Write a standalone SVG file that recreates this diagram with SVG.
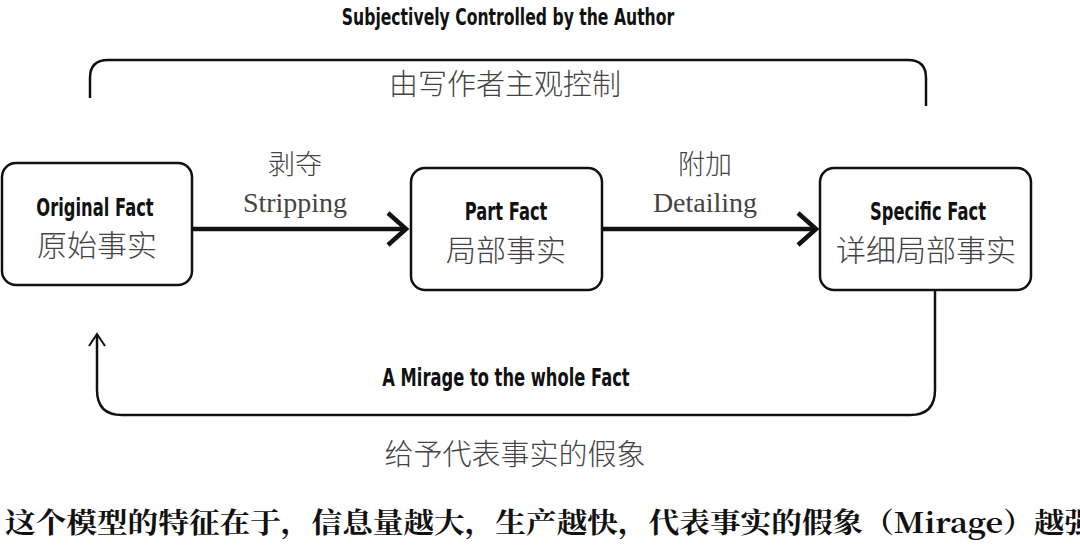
<svg xmlns="http://www.w3.org/2000/svg" width="1080" height="555" viewBox="0 0 1080 555">
<style>
.box{fill:#fff;stroke:#111;stroke-width:2.5}
.en{font-family:"DejaVu Sans",sans-serif;font-weight:bold;fill:#111;text-anchor:middle}
.cn{font-family:"Noto Sans CJK SC",sans-serif;font-weight:300;fill:#444;text-anchor:middle}
.sf{font-family:"Liberation Serif",serif;fill:#444;text-anchor:middle}
.ln{fill:none;stroke:#111;stroke-width:2.5}
</style>
<rect width="1080" height="555" fill="#fff"/>
<g id="connectors">
<path class="ln" d="M90,98 V78 Q90,60 108,60 H908 Q926,60 926,78 V106"/>
<path d="M192,229 H404" stroke="#111" stroke-width="4.5" fill="none"/>
<path d="M388,213 L406,229 L388,245" stroke="#111" stroke-width="4.5" fill="none"/>
<path d="M602,229 H814" stroke="#111" stroke-width="4.5" fill="none"/>
<path d="M798,213 L816,229 L798,245" stroke="#111" stroke-width="4.5" fill="none"/>
<path class="ln" d="M935,290 V390 Q935,415 910,415 H122 Q97,415 97,390 V336"/>
<path d="M89,346 L97,334 L105,346" stroke="#111" stroke-width="2" fill="none"/>
</g>
<text class="en" transform="translate(508,25) scale(0.68,1)" font-size="23">Subjectively Controlled by the Author</text>
<text class="cn" x="505" y="95" font-size="29">由写作者主观控制</text>
<text class="cn" x="295" y="174" font-size="27">剥夺</text>
<text class="sf" x="295" y="212" font-size="28">Stripping</text>
<text class="cn" x="705" y="174" font-size="27">附加</text>
<text class="sf" x="705" y="212" font-size="28">Detailing</text>
<g id="n1"><rect class="box" x="2" y="163" width="190" height="122" rx="14"/>
<text class="en" transform="translate(95,216) scale(0.68,1)" font-size="24">Original Fact</text>
<text class="cn" x="97" y="256" font-size="30">原始事实</text></g>
<g id="n2"><rect class="box" x="411" y="168" width="191" height="122" rx="14"/>
<text class="en" transform="translate(506,220) scale(0.68,1)" font-size="24">Part Fact</text>
<text class="cn" x="506" y="261" font-size="30">局部事实</text></g>
<g id="n3"><rect class="box" x="820" y="168" width="211" height="122" rx="14"/>
<text class="en" transform="translate(928,220) scale(0.68,1)" font-size="24">Specific Fact</text>
<text class="cn" x="926" y="261" font-size="30">详细局部事实</text></g>
<text class="en" transform="translate(506,386) scale(0.68,1)" font-size="24">A Mirage to the whole Fact</text>
<text class="cn" x="515" y="465" font-size="29">给予代表事实的假象</text>
<text x="5" y="533" font-size="28" font-weight="bold" fill="#111" textLength="1090" lengthAdjust="spacingAndGlyphs" font-family="'Noto Serif CJK SC','Liberation Serif','Noto Sans CJK SC',serif">这个模型的特征在于，信息量越大，生产越快，代表事实的假象（Mirage）越强</text>
</svg>
